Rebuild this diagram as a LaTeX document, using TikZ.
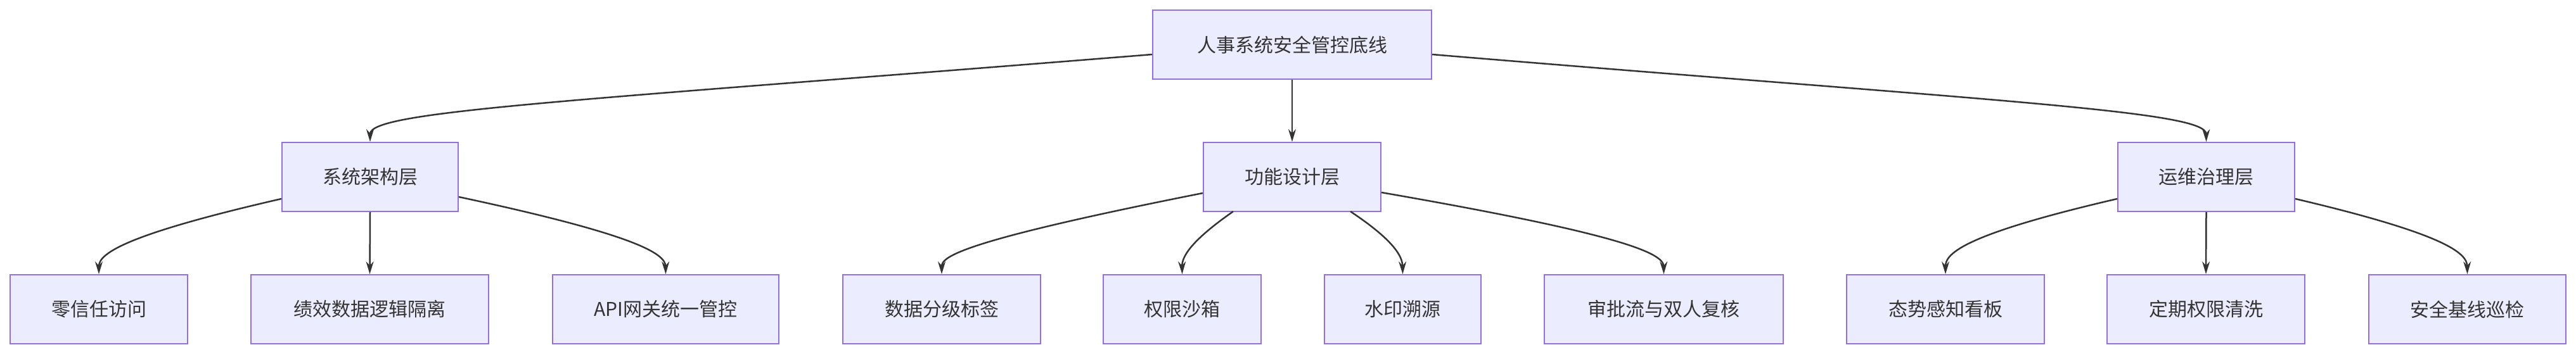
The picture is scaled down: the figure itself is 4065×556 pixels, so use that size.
\documentclass[tikz,border=0pt]{standalone}
\usepackage{fontspec}
\setmainfont{Noto Sans CJK SC}
\usetikzlibrary{arrows.meta}
\definecolor{nfill}{HTML}{ECECFF}
\definecolor{nline}{HTML}{9370DB}
\definecolor{ink}{HTML}{333333}
\begin{document}
\begin{tikzpicture}[x=1pt,y=-1pt,
  box/.style={draw=nline,fill=nfill,line width=2pt,text=ink,font=\fontsize{30}{36}\selectfont},
  edge/.style={draw=ink,line width=2.5pt,-{Stealth[length=20pt,width=12pt]}}]
\useasboundingbox (0,0) rectangle (4065,556);
\newcommand{\bx}[6]{\node[box,minimum width=#4-#3,minimum height=#6-#5,inner sep=0pt] (#1) at ({(#3+#4)/2},{(#5+#6)/2}) {#2};}
\bx{root}{人事系统安全管控底线}{1819}{2259}{16}{125}
\bx{a}{系统架构层}{445}{723}{225}{334}
\bx{b}{功能设计层}{1899}{2179}{225}{334}
\bx{c}{运维治理层}{3342}{3621}{225}{334}
\bx{a1}{零信任访问}{16}{296}{434}{543}
\bx{a2}{绩效数据逻辑隔离}{396}{771}{434}{543}
\bx{a3}{API网关统一管控}{872}{1229}{434}{543}
\bx{b1}{数据分级标签}{1330}{1642}{434}{543}
\bx{b2}{权限沙箱}{1741}{1990}{434}{543}
\bx{b3}{水印溯源}{2090}{2337}{434}{543}
\bx{b4}{审批流与双人复核}{2437}{2814}{434}{543}
\bx{c1}{态势感知看板}{2914}{3226}{434}{543}
\bx{c2}{定期权限清洗}{3325}{3637}{434}{543}
\bx{c3}{安全基线巡检}{3738}{4049}{434}{543}
\draw[edge] (root.west |- 0,86) .. controls (900,160) and (584,175) .. (a.north);
\draw[edge] (root.south -| b.north) -- (b.north);
\draw[edge] (root.east |- 0,86) .. controls (3150,160) and (3481,175) .. (c.north);
\draw[edge] (a.west |- 0,314) .. controls (200,370) and (156,400) .. (a1.north);
\draw[edge] (a.south) -- (a2.north);
\draw[edge] (a.east |- 0,311) .. controls (1000,370) and (1050,400) .. (a3.north);
\draw[edge] (b.west |- 0,305) .. controls (1520,380) and (1486,405) .. (b1.north);
\draw[edge] (1946,334) .. controls (1880,380) and (1865,405) .. (b2.north);
\draw[edge] (2131,334) .. controls (2200,380) and (2213,405) .. (b3.north);
\draw[edge] (b.east |- 0,304) .. controls (2560,370) and (2625,400) .. (b4.north);
\draw[edge] (c.west |- 0,314) .. controls (3100,370) and (3070,400) .. (c1.north);
\draw[edge] (c.south) -- (c2.north);
\draw[edge] (c.east |- 0,314) .. controls (3860,370) and (3893,400) .. (c3.north);
\end{tikzpicture}
\end{document}
